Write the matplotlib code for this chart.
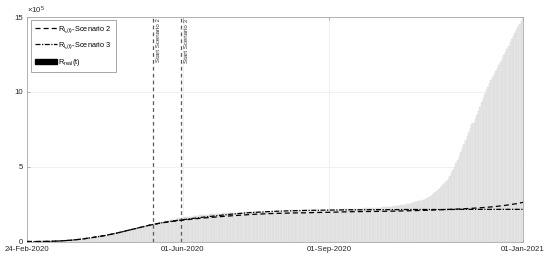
import pandas as pd
import matplotlib
matplotlib.use("Agg")
import matplotlib.pyplot as plt
from matplotlib.patches import Patch
from matplotlib.lines import Line2D

plt.rcParams['font.family'] = ['Liberation Sans', 'DejaVu Sans']
plt.rcParams['mathtext.fontset'] = 'custom'
plt.rcParams['mathtext.rm'] = 'Liberation Sans'
plt.rcParams['mathtext.it'] = 'Liberation Sans:italic'

# daily recovered cases R_real(t), thousands, 24-Feb-2020 .. 01-Jan-2021
real_feb = [0.0, 0.0, 0.0, 0.0, 0.0, 0.1]
real_mar = [0.1, 0.1, 0.2, 0.3, 0.4, 0.5, 0.6, 0.6, 0.7, 1.0, 1.0, 1.3, 1.4, 2.0, 2.3, 2.7,
            2.9, 4.0, 4.4, 5.1, 6.1, 7.0, 7.4, 8.3, 9.4, 10.4, 11.0, 12.4, 13.0, 14.6, 15.7]
real_apr = [16.8, 18.3, 19.8, 21.0, 21.8, 22.8, 24.4, 26.5, 28.5, 30.5, 32.5, 34.2, 35.4, 37.1, 38.1,
            40.2, 42.7, 44.9, 47.1, 48.9, 51.6, 54.5, 57.6, 60.5, 63.1, 64.9, 66.6, 68.9, 71.3, 75.9]
real_may = [78.2, 79.9, 81.7, 82.9, 85.2, 93.2, 96.3, 99.0, 103.0, 105.2, 106.6, 109.0, 112.5, 115.3,
            120.2, 122.8, 125.2, 127.3, 129.4, 132.3, 134.6, 136.7, 138.8, 140.5, 142.0, 144.7, 147.1,
            150.6, 155.6, 157.5, 158.4]
real_jun = [160.1, 160.9, 161.9, 163.8, 164.8, 165.8, 166.6, 168.6, 169.9, 170.3, 173.1, 174.9, 176.4,
            177.0, 178.5, 179.5, 180.5, 181.9, 182.5, 182.9, 183.4, 184.6, 185.0, 186.1, 186.7, 187.6,
            188.6, 188.9, 189.2, 190.2]
real_jul = [190.7, 191.1, 191.5, 191.9, 192.1, 192.2, 192.8, 193.0, 193.6, 194.1, 194.6, 194.9, 195.1,
            195.4, 195.6, 195.9, 196.2, 196.5, 196.8, 197.0, 197.3, 197.6, 197.8, 198.0, 198.2, 198.4,
            198.6, 198.8, 198.9, 199.0, 199.0]
real_aug = [199.2, 199.4, 199.6, 199.8, 200.0, 200.2, 200.5, 200.8, 201.0, 201.2, 201.4, 201.6, 201.8,
            202.0, 202.3, 202.5, 202.7, 203.0, 203.2, 203.5, 203.7, 204.0, 204.3, 204.5, 204.8, 205.2,
            205.6, 206.0, 206.5, 207.0, 207.9]
real_sep = [209.0, 210.0, 210.8, 211.5, 211.9, 212.4, 212.9, 213.3, 213.7, 214.1, 214.6, 215.1, 215.6,
            216.2, 216.9, 217.4, 218.0, 218.5, 219.0, 219.4, 219.8, 220.3, 220.7, 221.1, 221.5, 222.0,
            222.3, 222.5, 222.7, 223.0]
real_oct = [224, 225, 226, 227, 228, 229, 230, 231, 232, 233, 234, 235, 236, 237, 239, 241, 243, 245,
            247, 249, 251, 253, 256, 259, 262, 265, 268, 271, 274, 277, 280]
real_nov = [285, 292, 299, 306, 314, 322, 331, 340, 350, 360, 371, 382, 393, 404, 415, 435, 456, 478,
            500, 522, 545, 570, 597, 624, 651, 678, 705, 732, 759, 786]
real_dec = [790, 818, 846, 874, 902, 930, 958, 986, 1014, 1036, 1057, 1078, 1099, 1120, 1140, 1160,
            1180, 1200, 1222, 1244, 1266, 1288, 1310, 1332, 1354, 1376, 1396, 1416, 1436, 1456, 1474]
real_jan = [1490]

real = (real_feb + real_mar + real_apr + real_may + real_jun + real_jul + real_aug + real_sep
        + real_oct + real_nov + real_dec + real_jan)
real_dates = pd.date_range('2020-02-24', periods=len(real), freq='D')

# model curves R_Is(t), units of 1e5, weekly from 24-Feb-2020 plus 01-Jan-2021
model_dates = list(pd.date_range('2020-02-24', periods=45, freq='7D')) + [pd.Timestamp('2021-01-01')]
scen2 = [0.00, 0.00, 0.01, 0.04, 0.09, 0.17, 0.28, 0.40, 0.55, 0.73, 0.91, 1.09,
         1.23, 1.34, 1.43, 1.51, 1.58, 1.64, 1.70, 1.75, 1.80, 1.84, 1.87, 1.89, 1.91, 1.92,
         1.94, 1.95, 1.97, 1.99, 2.00, 2.01, 2.02, 2.03, 2.05, 2.07, 2.09, 2.12, 2.15, 2.18,
         2.22, 2.27, 2.33, 2.42, 2.53, 2.62]
scen3 = [0.00, 0.00, 0.01, 0.04, 0.09, 0.17, 0.28, 0.40, 0.55, 0.73, 0.91, 1.09,
         1.24, 1.36, 1.46, 1.55, 1.64, 1.72, 1.80, 1.87, 1.93, 1.97, 2.01, 2.04, 2.06, 2.08,
         2.09, 2.10, 2.11, 2.12, 2.12, 2.13, 2.13, 2.13, 2.14, 2.14, 2.14, 2.14, 2.14, 2.15,
         2.15, 2.15, 2.15, 2.15, 2.15, 2.15]

start_dates = [pd.Timestamp('2020-05-13'), pd.Timestamp('2020-05-31')]
start_labels = ['Start Scenario 2', 'Start Scenario 3']

tick_dates = [pd.Timestamp('2020-02-24'), pd.Timestamp('2020-06-01'),
              pd.Timestamp('2020-09-01'), pd.Timestamp('2021-01-01')]
tick_labels = ['24-Feb-2020', '01-Jun-2020', '01-Sep-2020', '01-Jan-2021']

fig = plt.figure(figsize=(5.5, 2.59), dpi=100)
ax = fig.add_axes([0.049, 0.0675, 0.902, 0.8665])

# daily bars, light fill with slightly darker edges gives the striped look
ax.bar(real_dates, [v / 100 for v in real], width=1.0, color='#e8e8e8',
       edgecolor='#d8d8d8', linewidth=0.3, zorder=2)

ax.plot(model_dates, scen2, color='black', linestyle=(0, (4, 2.5)), linewidth=0.9, zorder=4)
ax.plot(model_dates, scen3, color='black', linestyle=(0, (4, 1.2, 1, 1.2)), linewidth=0.9, zorder=4)

for d, lab in zip(start_dates, start_labels):
    ax.axvline(d, color='#5a5a5a', linestyle=(0, (3, 2.5)), linewidth=0.9, zorder=3)
    ax.text(d + pd.Timedelta(days=2), 14.9, lab, rotation=90, ha='left', va='top',
            fontsize=4.4, color='#333333')

ax.set_xlim(pd.Timestamp('2020-02-24'), pd.Timestamp('2021-01-01'))
ax.set_ylim(0, 15)
ax.set_xticks(tick_dates)
ax.set_xticklabels(tick_labels)
ax.set_yticks([0, 5, 10, 15])
ax.grid(True, color='#eeeeee', linewidth=0.6, zorder=0)
ax.set_axisbelow(True)
ax.tick_params(direction='in', length=2, width=0.5, labelsize=5.6, colors='#9a9a9a',
               labelcolor='#262626', top=True, right=True)
ax.tick_params(axis='x', pad=3.2)
ax.tick_params(axis='y', pad=2.5)
for s in ax.spines.values():
    s.set_color('#a8a8a8')
    s.set_linewidth(0.6)

ax.text(0.0, 1.005, r'$\times\mathregular{10^5}$', transform=ax.transAxes, fontsize=5.6,
        ha='left', va='bottom', color='#262626')

handles = [Line2D([], [], color='black', linestyle=(0, (4, 2.5)), linewidth=0.9),
           Line2D([], [], color='black', linestyle=(0, (4, 1.2, 1, 1.2)), linewidth=0.9),
           Patch(facecolor='black', edgecolor='black')]
labels = [r'$\mathregular{R_{I_{s}(t)}}$-Scenario 2',
          r'$\mathregular{R_{I_{s}(t)}}$-Scenario 3',
          r'$\mathregular{R_{real}}$(t)']
leg = ax.legend(handles, labels, loc='upper left', bbox_to_anchor=(0.006, 0.995), fontsize=5.3,
                frameon=True, fancybox=False, edgecolor='#9a9a9a', framealpha=1,
                handlelength=2.9, handletextpad=0.2, labelspacing=0.8, borderpad=0.55,
                borderaxespad=0.2)
leg.get_frame().set_linewidth(0.6)

fig.savefig('out.png', dpi=100)
